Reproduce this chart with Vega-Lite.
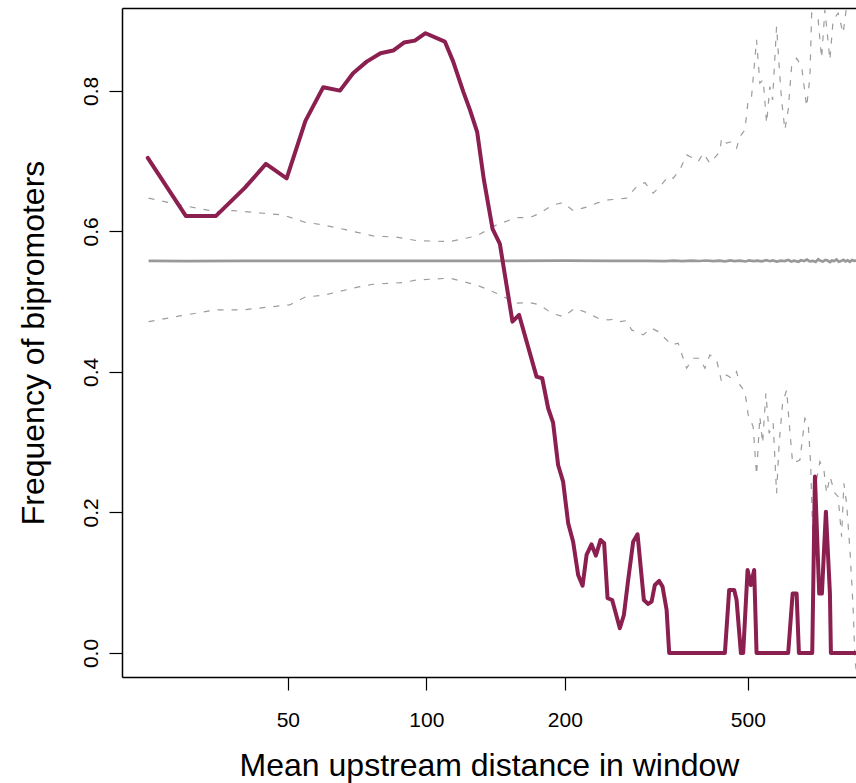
{
  "$schema": "https://vega.github.io/schema/vega-lite/v6.json",
  "width": 734,
  "height": 669,
  "autosize": {"type": "none"},
  "padding": {"left": 122, "top": 8, "right": 0, "bottom": 106},
  "background": "white",
  "config": {
    "view": {"stroke": null},
    "font": "Liberation Sans",
    "axis": {"grid": false, "domainColor": "#000000", "domainWidth": 1.5, "tickColor": "#000000", "tickWidth": 1.2, "tickSize": 13, "labelColor": "#000000", "titleColor": "#000000", "labelFont": "Liberation Sans", "titleFont": "Liberation Sans", "labelFontSize": 21, "titleFontSize": 32, "titleFontWeight": "normal"}
  },
  "resolve": {"axis": {"x": "independent"}},
  "datasets": {
    "obs": [
      {"x": 24.8, "y": 0.7046}, {"x": 30.0, "y": 0.6221}, {"x": 34.9, "y": 0.6221}, {"x": 40.3, "y": 0.6619},
      {"x": 44.8, "y": 0.6961}, {"x": 49.7, "y": 0.6754}, {"x": 54.6, "y": 0.7573}, {"x": 59.7, "y": 0.8053},
      {"x": 64.9, "y": 0.8004}, {"x": 69.3, "y": 0.8252}, {"x": 74.2, "y": 0.8417}, {"x": 79.5, "y": 0.8537},
      {"x": 84.7, "y": 0.8574}, {"x": 89.4, "y": 0.8688}, {"x": 94.4, "y": 0.8716}, {"x": 99.6, "y": 0.8821},
      {"x": 109.7, "y": 0.8702}, {"x": 114.4, "y": 0.8417}, {"x": 120.3, "y": 0.799}, {"x": 124.4, "y": 0.773},
      {"x": 129.0, "y": 0.7412}, {"x": 133.4, "y": 0.6733}, {"x": 139.3, "y": 0.6036}, {"x": 144.5, "y": 0.5822},
      {"x": 153.9, "y": 0.4716}, {"x": 159.1, "y": 0.4811}, {"x": 173.6, "y": 0.3933}, {"x": 178.6, "y": 0.391},
      {"x": 184.0, "y": 0.3483}, {"x": 188.6, "y": 0.3278}, {"x": 193.4, "y": 0.2676}, {"x": 198.3, "y": 0.2438},
      {"x": 203.4, "y": 0.1846}, {"x": 208.5, "y": 0.1584}, {"x": 213.8, "y": 0.111}, {"x": 218.6, "y": 0.0958},
      {"x": 223.0, "y": 0.1395}, {"x": 228.6, "y": 0.1547}, {"x": 233.6, "y": 0.1385}, {"x": 239.2, "y": 0.1609},
      {"x": 243.5, "y": 0.1562}, {"x": 247.7, "y": 0.0779}, {"x": 253.5, "y": 0.0754}, {"x": 263.4, "y": 0.0352},
      {"x": 268.8, "y": 0.0541}, {"x": 274.6, "y": 0.1039}, {"x": 281.6, "y": 0.1584}, {"x": 287.8, "y": 0.169},
      {"x": 297.1, "y": 0.0754}, {"x": 303.6, "y": 0.0698}, {"x": 308.8, "y": 0.073}, {"x": 313.9, "y": 0.0968},
      {"x": 320.7, "y": 0.1025}, {"x": 326.2, "y": 0.0944}, {"x": 332.9, "y": 0.0612}, {"x": 337.2, "y": 0.0},
      {"x": 445.7, "y": 0.0}, {"x": 455.3, "y": 0.0897}, {"x": 466.9, "y": 0.0897}, {"x": 472.5, "y": 0.0754},
      {"x": 482.8, "y": 0.0}, {"x": 488.4, "y": 0.0}, {"x": 499.2, "y": 0.1181}, {"x": 507.5, "y": 0.0968},
      {"x": 516.0, "y": 0.1181}, {"x": 522.2, "y": 0.0}, {"x": 611.8, "y": 0.0}, {"x": 625.5, "y": 0.0845},
      {"x": 638.1, "y": 0.0845}, {"x": 645.5, "y": 0.0}, {"x": 690.0, "y": 0.0}, {"x": 699.4, "y": 0.251},
      {"x": 714.5, "y": 0.0845}, {"x": 724.2, "y": 0.0845}, {"x": 738.9, "y": 0.2011}, {"x": 753.9, "y": 0.0845},
      {"x": 757.6, "y": 0.0}, {"x": 880, "y": 0.0}
    ],
    "mean": [
      {"x": 24.9, "y": 0.558}, {"x": 30, "y": 0.5577}, {"x": 40, "y": 0.558}, {"x": 60, "y": 0.558},
      {"x": 100, "y": 0.558}, {"x": 150, "y": 0.558}, {"x": 200, "y": 0.5583}, {"x": 250, "y": 0.558},
      {"x": 300, "y": 0.5582}, {"x": 330, "y": 0.5578}, {"x": 345, "y": 0.5584}, {"x": 360, "y": 0.5577},
      {"x": 378, "y": 0.5583}, {"x": 392, "y": 0.5579}, {"x": 405, "y": 0.5586}, {"x": 421, "y": 0.5576},
      {"x": 433, "y": 0.5583}, {"x": 446, "y": 0.5575}, {"x": 458, "y": 0.5587}, {"x": 467, "y": 0.5578},
      {"x": 481, "y": 0.5584}, {"x": 494, "y": 0.5572}, {"x": 503, "y": 0.5588}, {"x": 515, "y": 0.5577},
      {"x": 524, "y": 0.5584}, {"x": 536, "y": 0.5574}, {"x": 548, "y": 0.5592}, {"x": 559, "y": 0.5576},
      {"x": 566, "y": 0.5586}, {"x": 578, "y": 0.5571}, {"x": 590, "y": 0.5584}, {"x": 601, "y": 0.5578},
      {"x": 612, "y": 0.5595}, {"x": 621, "y": 0.5572}, {"x": 630, "y": 0.5583}, {"x": 644, "y": 0.5568},
      {"x": 652, "y": 0.5589}, {"x": 663, "y": 0.5579}, {"x": 672, "y": 0.5598}, {"x": 681, "y": 0.5574},
      {"x": 693, "y": 0.5581}, {"x": 702, "y": 0.5566}, {"x": 711, "y": 0.5603}, {"x": 719, "y": 0.5582},
      {"x": 728, "y": 0.5571}, {"x": 737, "y": 0.5594}, {"x": 745, "y": 0.5586}, {"x": 754, "y": 0.5564},
      {"x": 761, "y": 0.5585}, {"x": 770, "y": 0.5577}, {"x": 779, "y": 0.5601}, {"x": 788, "y": 0.5569},
      {"x": 797, "y": 0.5578}, {"x": 806, "y": 0.5596}, {"x": 815, "y": 0.5574}, {"x": 824, "y": 0.5588},
      {"x": 833, "y": 0.5567}, {"x": 842, "y": 0.5592}, {"x": 851, "y": 0.5581}, {"x": 870, "y": 0.5586}
    ],
    "bands": [
      {"s": "upper", "x": 24.9, "y": 0.6473}, {"s": "upper", "x": 29.1, "y": 0.6377}, {"s": "upper", "x": 34.9, "y": 0.6282},
      {"s": "upper", "x": 38.0, "y": 0.6296}, {"s": "upper", "x": 44.2, "y": 0.6259}, {"s": "upper", "x": 48.8, "y": 0.6235},
      {"s": "upper", "x": 54.4, "y": 0.6131}, {"s": "upper", "x": 59.7, "y": 0.6093}, {"s": "upper", "x": 67.1, "y": 0.6021},
      {"s": "upper", "x": 76.6, "y": 0.5936}, {"s": "upper", "x": 86.2, "y": 0.5918}, {"s": "upper", "x": 95.3, "y": 0.5869},
      {"s": "upper", "x": 112.5, "y": 0.5855}, {"s": "upper", "x": 128.6, "y": 0.5936}, {"s": "upper", "x": 142.1, "y": 0.6093},
      {"s": "upper", "x": 157.1, "y": 0.6197}, {"s": "upper", "x": 167.9, "y": 0.6197}, {"s": "upper", "x": 176.5, "y": 0.6259},
      {"s": "upper", "x": 188.6, "y": 0.6377}, {"s": "upper", "x": 198.3, "y": 0.641}, {"s": "upper", "x": 208.5, "y": 0.6296},
      {"s": "upper", "x": 223.0, "y": 0.6345}, {"s": "upper", "x": 236.3, "y": 0.641}, {"s": "upper", "x": 248.5, "y": 0.6448},
      {"s": "upper", "x": 259.2, "y": 0.6458}, {"s": "upper", "x": 272.4, "y": 0.6473}, {"s": "upper", "x": 286.4, "y": 0.6638},
      {"s": "upper", "x": 298.6, "y": 0.6695}, {"s": "upper", "x": 311.2, "y": 0.6544}, {"s": "upper", "x": 321.8, "y": 0.6638},
      {"s": "upper", "x": 335.5, "y": 0.678}, {"s": "upper", "x": 344.0, "y": 0.6757}, {"s": "upper", "x": 355.7, "y": 0.6875},
      {"s": "upper", "x": 367.9, "y": 0.7089}, {"s": "upper", "x": 380.3, "y": 0.7042}, {"s": "upper", "x": 389.9, "y": 0.6994},
      {"s": "upper", "x": 399.8, "y": 0.7113}, {"s": "upper", "x": 413.4, "y": 0.6971}, {"s": "upper", "x": 434.6, "y": 0.7136},
      {"s": "upper", "x": 438.3, "y": 0.7327}, {"s": "upper", "x": 449.4, "y": 0.7256}, {"s": "upper", "x": 460.8, "y": 0.7278},
      {"s": "upper", "x": 472.5, "y": 0.7184}, {"s": "upper", "x": 480.4, "y": 0.7349}, {"s": "upper", "x": 492.6, "y": 0.7445},
      {"s": "upper", "x": 500.8, "y": 0.7872}, {"s": "upper", "x": 509.3, "y": 0.7919}, {"s": "upper", "x": 522.2, "y": 0.8726},
      {"s": "upper", "x": 530.9, "y": 0.811}, {"s": "upper", "x": 539.8, "y": 0.8157}, {"s": "upper", "x": 549.1, "y": 0.754},
      {"s": "upper", "x": 558.2, "y": 0.8061}, {"s": "upper", "x": 565.8, "y": 0.7872}, {"s": "upper", "x": 577.2, "y": 0.8915},
      {"s": "upper", "x": 584.8, "y": 0.8346}, {"s": "upper", "x": 591.9, "y": 0.7872}, {"s": "upper", "x": 601.7, "y": 0.7445},
      {"s": "upper", "x": 611.8, "y": 0.773}, {"s": "upper", "x": 622.3, "y": 0.8346}, {"s": "upper", "x": 638.1, "y": 0.8466},
      {"s": "upper", "x": 654.4, "y": 0.8346}, {"s": "upper", "x": 671.0, "y": 0.7776}, {"s": "upper", "x": 682.2, "y": 0.8203},
      {"s": "upper", "x": 688.0, "y": 0.9106}, {"s": "upper", "x": 710.9, "y": 0.9011}, {"s": "upper", "x": 723.1, "y": 0.8466},
      {"s": "upper", "x": 735.2, "y": 0.9153}, {"s": "upper", "x": 753.9, "y": 0.8441}, {"s": "upper", "x": 766.1, "y": 0.9011},
      {"s": "upper", "x": 785.5, "y": 0.9106}, {"s": "upper", "x": 805.5, "y": 0.8821}, {"s": "upper", "x": 819.4, "y": 0.92},
      {"s": "upper", "x": 841.6, "y": 0.944}, {"s": "upper", "x": 870, "y": 0.93},
      {"s": "lower", "x": 24.9, "y": 0.4716}, {"s": "lower", "x": 29.1, "y": 0.4797}, {"s": "lower", "x": 34.9, "y": 0.4883},
      {"s": "lower", "x": 40.0, "y": 0.4883}, {"s": "lower", "x": 44.9, "y": 0.4921}, {"s": "lower", "x": 50.5, "y": 0.4954},
      {"s": "lower", "x": 54.4, "y": 0.5063}, {"s": "lower", "x": 60.2, "y": 0.5096}, {"s": "lower", "x": 71.7, "y": 0.5214},
      {"s": "lower", "x": 76.6, "y": 0.5248}, {"s": "lower", "x": 89.1, "y": 0.5271}, {"s": "lower", "x": 95.3, "y": 0.531},
      {"s": "lower", "x": 112.5, "y": 0.5334}, {"s": "lower", "x": 128.6, "y": 0.5238}, {"s": "lower", "x": 142.1, "y": 0.512},
      {"s": "lower", "x": 157.1, "y": 0.4978}, {"s": "lower", "x": 167.9, "y": 0.4987}, {"s": "lower", "x": 176.5, "y": 0.4954},
      {"s": "lower", "x": 187.2, "y": 0.4836}, {"s": "lower", "x": 198.3, "y": 0.4787}, {"s": "lower", "x": 210.3, "y": 0.4907},
      {"s": "lower", "x": 223.0, "y": 0.4844}, {"s": "lower", "x": 236.3, "y": 0.4764}, {"s": "lower", "x": 248.5, "y": 0.474},
      {"s": "lower", "x": 257.0, "y": 0.475}, {"s": "lower", "x": 263.4, "y": 0.4716}, {"s": "lower", "x": 272.4, "y": 0.473},
      {"s": "lower", "x": 279.4, "y": 0.4598}, {"s": "lower", "x": 296.0, "y": 0.4527}, {"s": "lower", "x": 308.8, "y": 0.4622},
      {"s": "lower", "x": 319.1, "y": 0.4574}, {"s": "lower", "x": 332.9, "y": 0.4456}, {"s": "lower", "x": 341.3, "y": 0.4384},
      {"s": "lower", "x": 352.7, "y": 0.4409}, {"s": "lower", "x": 361.7, "y": 0.4195}, {"s": "lower", "x": 367.9, "y": 0.4053},
      {"s": "lower", "x": 380.3, "y": 0.4195}, {"s": "lower", "x": 393.1, "y": 0.4195}, {"s": "lower", "x": 403.2, "y": 0.4053},
      {"s": "lower", "x": 413.4, "y": 0.4242}, {"s": "lower", "x": 427.5, "y": 0.4171}, {"s": "lower", "x": 438.3, "y": 0.3862},
      {"s": "lower", "x": 449.4, "y": 0.3957}, {"s": "lower", "x": 460.8, "y": 0.391}, {"s": "lower", "x": 472.5, "y": 0.4004},
      {"s": "lower", "x": 480.4, "y": 0.3815}, {"s": "lower", "x": 492.6, "y": 0.372}, {"s": "lower", "x": 500.8, "y": 0.3388},
      {"s": "lower", "x": 513.4, "y": 0.3221}, {"s": "lower", "x": 522.2, "y": 0.2534}, {"s": "lower", "x": 530.9, "y": 0.3364},
      {"s": "lower", "x": 538.3, "y": 0.2985}, {"s": "lower", "x": 547.1, "y": 0.3697}, {"s": "lower", "x": 556.2, "y": 0.3127},
      {"s": "lower", "x": 567.5, "y": 0.327}, {"s": "lower", "x": 577.2, "y": 0.2273}, {"s": "lower", "x": 584.8, "y": 0.2985},
      {"s": "lower", "x": 594.9, "y": 0.3554}, {"s": "lower", "x": 607.0, "y": 0.3744}, {"s": "lower", "x": 614.9, "y": 0.327},
      {"s": "lower", "x": 625.5, "y": 0.27}, {"s": "lower", "x": 648.7, "y": 0.2747}, {"s": "lower", "x": 665.1, "y": 0.3341},
      {"s": "lower", "x": 676.3, "y": 0.327}, {"s": "lower", "x": 684.4, "y": 0.27}, {"s": "lower", "x": 691.4, "y": 0.1751},
      {"s": "lower", "x": 702.8, "y": 0.2416}, {"s": "lower", "x": 717.0, "y": 0.2723}, {"s": "lower", "x": 731.5, "y": 0.2605},
      {"s": "lower", "x": 741.5, "y": 0.2273}, {"s": "lower", "x": 753.9, "y": 0.251}, {"s": "lower", "x": 772.9, "y": 0.2273},
      {"s": "lower", "x": 785.5, "y": 0.2225}, {"s": "lower", "x": 799.2, "y": 0.1655}, {"s": "lower", "x": 808.4, "y": 0.2416},
      {"s": "lower", "x": 819.4, "y": 0.2131}, {"s": "lower", "x": 833.3, "y": 0.1466}, {"s": "lower", "x": 840.4, "y": 0.1039},
      {"s": "lower", "x": 847.2, "y": 0.0612}, {"s": "lower", "x": 854.5, "y": -0.01}, {"s": "lower", "x": 870, "y": -0.05}
    ]
  },
  "layer": [
    {
      "data": {"name": "bands"},
      "mark": {"type": "line", "clip": true, "color": "#9c9c9c", "strokeWidth": 1.2, "strokeDash": [6, 8]},
      "encoding": {
        "x": {"field": "x", "type": "quantitative", "scale": {"type": "log", "domain": [21.8, 859], "nice": false},
              "axis": {"orient": "top", "labels": false, "ticks": false, "domain": true, "title": null, "grid": false}},
        "y": {"field": "y", "type": "quantitative", "scale": {"domain": [-0.0342, 0.918], "nice": false, "zero": false}},
        "detail": {"field": "s"}
      }
    },
    {
      "data": {"name": "mean"},
      "mark": {"type": "line", "clip": true, "color": "#999999", "strokeWidth": 2.7},
      "encoding": {
        "x": {"field": "x", "type": "quantitative", "scale": {"type": "log", "domain": [21.8, 859], "nice": false},
              "axis": {"orient": "bottom", "values": [50, 100, 200, 500], "format": "d", "labelPadding": 19, "title": "Mean upstream distance in window", "titlePadding": 20}},
        "y": {"field": "y", "type": "quantitative", "scale": {"domain": [-0.0342, 0.918], "nice": false, "zero": false},
              "axis": {"orient": "left", "values": [0, 0.2, 0.4, 0.6, 0.8], "format": ".1f", "labelAngle": -90, "labelAlign": "center", "labelBaseline": "bottom", "labelPadding": 8, "title": "Frequency of bipromoters", "titlePadding": 30}}
      }
    },
    {
      "data": {"name": "obs"},
      "mark": {"type": "line", "clip": true, "color": "#8b1f50", "strokeWidth": 4, "strokeJoin": "round", "strokeCap": "round"},
      "encoding": {
        "x": {"field": "x", "type": "quantitative", "axis": null},
        "y": {"field": "y", "type": "quantitative"}
      }
    }
  ]
}
